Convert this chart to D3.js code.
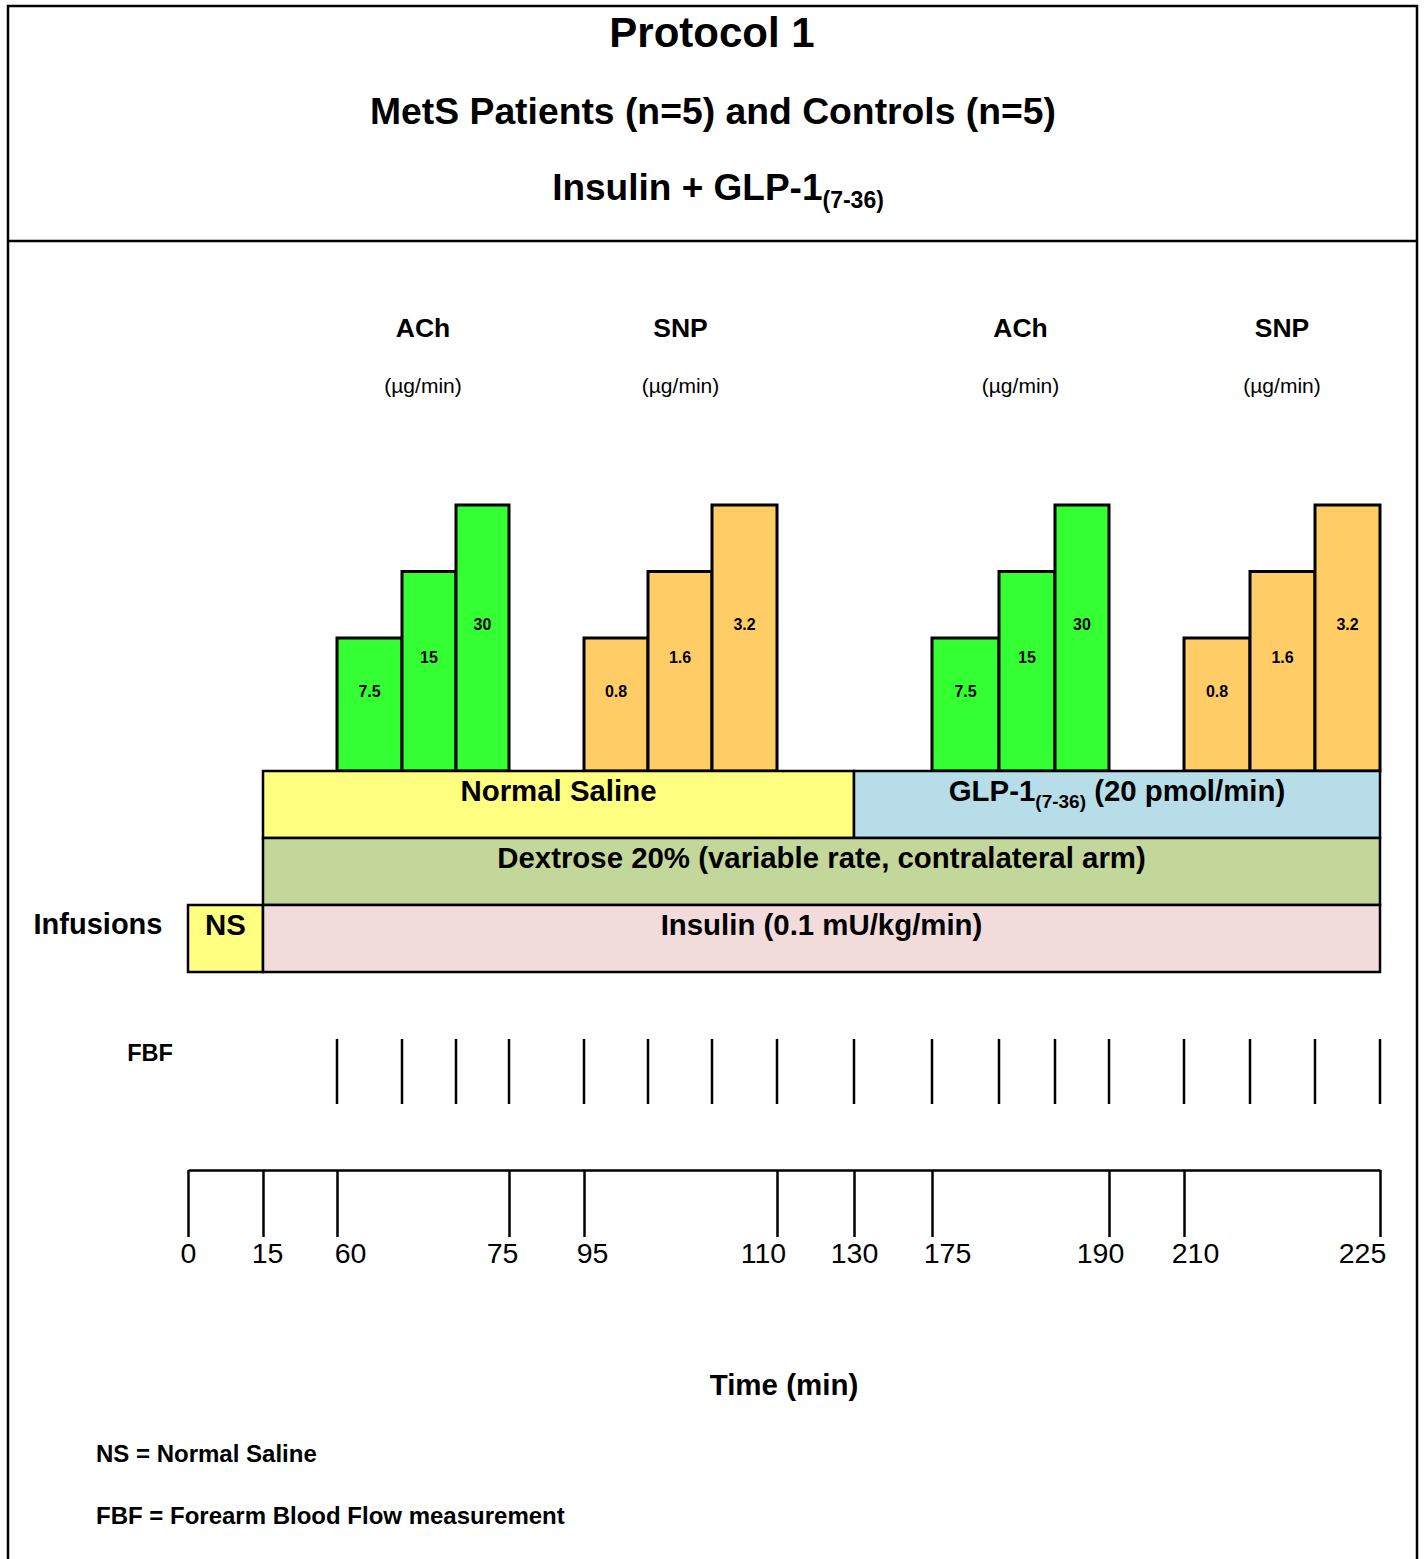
<!DOCTYPE html>
<html>
<head>
<meta charset="utf-8">
<script src="https://cdn.jsdelivr.net/npm/d3@7"></script>
<style>
  body { margin: 0; background: #fff; }
  svg text { font-family: "Liberation Sans", Arial, sans-serif; fill: #000; }
</style>
</head>
<body>
<svg id="chart" width="1425" height="1559"></svg>
<script>
// --- data ---
var timeBreaks = [0, 15, 60, 65, 70, 75, 95, 100, 105, 110, 130, 175, 180, 185, 190, 210, 215, 220, 225];
var axisTicks = [0, 15, 60, 75, 95, 110, 130, 175, 190, 210, 225];
var achDoses = ["7.5", "15", "30"];
var snpDoses = ["0.8", "1.6", "3.2"];
var doseLevels = [2, 3, 4];
var doseMinutes = 5;
var drugNames = ["ACh", "SNP", "ACh", "SNP"];
var drugStarts = [60, 95, 175, 210];
var drugUnit = "(µg/min)";
var fbfTimes = [60, 65, 70, 75, 95, 100, 105, 110, 130, 175, 180, 185, 190, 210, 215, 220, 225];
var infusionRows = ["top", "dextrose", "insulin"];
var infusions = [
  { row: "top", start: 15, end: 130, label: "Normal Saline", color: "#ffff80" },
  { row: "top", start: 130, end: 225, label: "GLP-1", sub: "(7-36)", tail: " (20 pmol/min)", color: "#b7dde8" },
  { row: "dextrose", start: 15, end: 225, label: "Dextrose 20% (variable rate, contralateral arm)", color: "#c4d79b" },
  { row: "insulin", start: 0, end: 15, label: "NS", color: "#ffff80" },
  { row: "insulin", start: 15, end: 225, label: "Insulin (0.1 mU/kg/min)", color: "#f2dcdb" }
];

// --- layout (schematic, not to scale: width of each time segment in px) ---
var slotWidths = [75, 74, 65, 54, 53, 75, 64, 64, 65, 77, 78, 67, 56, 54, 75, 66, 65, 65];
var x0 = 188;
var xRange = [x0];
slotWidths.forEach(function(w, i) { xRange.push(xRange[i] + w); });
var x = d3.scaleLinear().domain(timeBreaks).range(xRange);

var svg = d3.select("#chart");

// frame
svg.append("rect").attr("x", 8).attr("y", 6).attr("width", 1409).attr("height", 1600)
  .attr("fill", "none").attr("stroke", "#000").attr("stroke-width", 2.5);
svg.append("line").attr("x1", 8).attr("x2", 1417).attr("y1", 241).attr("y2", 241)
  .attr("stroke", "#000").attr("stroke-width", 2.5);

// titles
svg.append("text").attr("x", 712).attr("y", 47).attr("text-anchor", "middle")
  .attr("font-size", 42).attr("font-weight", "bold").text("Protocol 1");
svg.append("text").attr("x", 713).attr("y", 124).attr("text-anchor", "middle")
  .attr("font-size", 37.3).attr("font-weight", "bold").text("MetS Patients (n=5) and Controls (n=5)");
var t3 = svg.append("text").attr("x", 718).attr("y", 200).attr("text-anchor", "middle")
  .attr("font-size", 37).attr("font-weight", "bold");
t3.append("tspan").text("Insulin + GLP-1");
t3.append("tspan").attr("font-size", 23).attr("dy", 8).text("(7-36)");

// drug bars
var y = d3.scaleLinear().domain([0, 4]).range([771, 505]);
var blocks = drugNames.map(function(name, i) {
  var doses = name === "ACh" ? achDoses : snpDoses;
  return {
    name: name,
    start: drugStarts[i],
    bars: doses.map(function(d, j) {
      return { label: d, level: doseLevels[j], t0: drugStarts[i] + j * doseMinutes, t1: drugStarts[i] + (j + 1) * doseMinutes, color: name === "ACh" ? "#33ff33" : "#ffcc66" };
    })
  };
});

var blk = svg.append("g").selectAll("g").data(blocks).enter().append("g");
blk.append("text").attr("x", function(d) { return (x(d.start) + x(d.start + 3 * doseMinutes)) / 2; })
  .attr("y", 337).attr("text-anchor", "middle").attr("font-size", 26.5).attr("font-weight", "bold")
  .text(function(d) { return d.name; });
blk.append("text").attr("x", function(d) { return (x(d.start) + x(d.start + 3 * doseMinutes)) / 2; })
  .attr("y", 393).attr("text-anchor", "middle").attr("font-size", 21)
  .text(drugUnit);

var bar = blk.selectAll(".bar").data(function(d) { return d.bars; }).enter().append("g").attr("class", "bar");
bar.append("rect")
  .attr("x", function(d) { return x(d.t0); })
  .attr("width", function(d) { return x(d.t1) - x(d.t0); })
  .attr("y", function(d) { return y(d.level); })
  .attr("height", function(d) { return y(0) - y(d.level); })
  .attr("fill", function(d) { return d.color; })
  .attr("stroke", "#000").attr("stroke-width", 3);
bar.append("text")
  .attr("x", function(d) { return (x(d.t0) + x(d.t1)) / 2; })
  .attr("y", function(d) { return (y(d.level) + y(0)) / 2 - 8; })
  .attr("text-anchor", "middle").attr("font-size", 16).attr("font-weight", "bold")
  .text(function(d) { return d.label; });

// infusion rows
var rowY = d3.scaleBand().domain(infusionRows).range([771, 972]);
var inf = svg.append("g").selectAll("g").data(infusions).enter().append("g");
inf.append("rect")
  .attr("x", function(d) { return x(d.start); })
  .attr("width", function(d) { return x(d.end) - x(d.start); })
  .attr("y", function(d) { return rowY(d.row); })
  .attr("height", rowY.bandwidth())
  .attr("fill", function(d) { return d.color; })
  .attr("stroke", "#000").attr("stroke-width", 2.5);
var lab = inf.append("text")
  .attr("x", function(d) { return (x(d.start) + x(d.end)) / 2; })
  .attr("y", function(d) { return rowY(d.row) + 30; })
  .attr("text-anchor", "middle").attr("font-size", 29.4).attr("font-weight", "bold");
lab.append("tspan").text(function(d) { return d.label; });
lab.filter(function(d) { return d.sub; }).each(function(d) {
  var t = d3.select(this);
  t.append("tspan").attr("font-size", 19).attr("dy", 7).text(d.sub);
  t.append("tspan").attr("dy", -7).text(d.tail);
});
svg.append("text").attr("x", 98).attr("y", 934).attr("text-anchor", "middle")
  .attr("font-size", 29).attr("font-weight", "bold").text("Infusions");

// FBF measurement marks
svg.append("text").attr("x", 150).attr("y", 1061).attr("text-anchor", "middle")
  .attr("font-size", 23.5).attr("font-weight", "bold").text("FBF");
svg.append("g").selectAll("line").data(fbfTimes).enter().append("line")
  .attr("x1", function(d) { return x(d); }).attr("x2", function(d) { return x(d); })
  .attr("y1", 1039).attr("y2", 1104)
  .attr("stroke", "#000").attr("stroke-width", 2.5);

// time axis
var labelNudge = [0, 4, 13, -7, 8, -14, 0, 15, -9, 11, -18];
var axis = svg.append("g").attr("transform", "translate(0,1170)")
  .call(d3.axisBottom(x).tickValues(axisTicks).tickSize(67).tickSizeOuter(0).tickPadding(6).tickFormat(d3.format("d")));
axis.select(".domain").attr("stroke-width", 2.5);
axis.selectAll(".tick line").attr("stroke-width", 2.5);
axis.selectAll(".tick text").attr("font-size", 28.5).attr("font-family", "Liberation Sans, Arial, sans-serif")
  .attr("x", function(d, i) { return labelNudge[i]; });

svg.append("text").attr("x", 784).attr("y", 1395).attr("text-anchor", "middle")
  .attr("font-size", 29.5).attr("font-weight", "bold").text("Time (min)");

// notes
svg.append("text").attr("x", 96).attr("y", 1462).attr("font-size", 24).attr("font-weight", "bold")
  .text("NS = Normal Saline");
svg.append("text").attr("x", 96).attr("y", 1524).attr("font-size", 24).attr("font-weight", "bold")
  .text("FBF = Forearm Blood Flow measurement");
</script>
</body>
</html>
